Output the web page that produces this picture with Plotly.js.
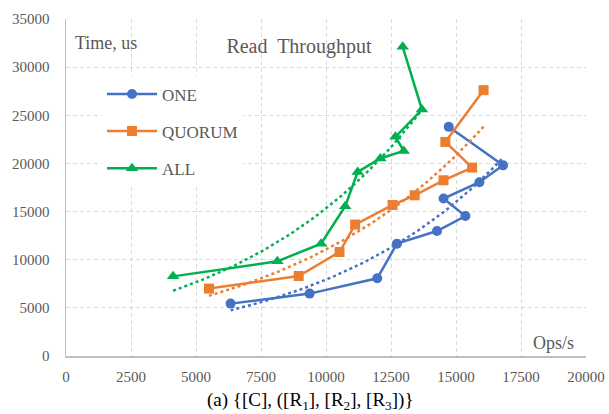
<!DOCTYPE html>
<html>
<head>
<meta charset="utf-8">
<script src="https://cdn.plot.ly/plotly-3.0.1.min.js"></script>
<style>
html,body{margin:0;padding:0;background:#fff;}
#chart{width:609px;height:414px;}
</style>
</head>
<body>
<div id="chart"></div>
<script>
// Data (Ops/s vs Time, us)
const seriesNames = ["ONE", "QUORUM", "ALL"];
const oneX = [6330, 9370, 11970, 12730, 14270, 15360, 14520, 15900, 16810, 14720];
const oneY = [5440, 6480, 8070, 11670, 12980, 14540, 16350, 18050, 19800, 23800];
const quorumX = [5500, 8950, 10520, 11120, 12560, 13410, 14520, 15620, 14590, 16060];
const quorumY = [7000, 8310, 10800, 13650, 15690, 16690, 18250, 19570, 22230, 27610];
const allX = [4120, 8130, 9810, 10740, 11220, 12090, 12990, 12670, 13690, 12950];
const allY = [8270, 9830, 11670, 15550, 19120, 20510, 21300, 22760, 25600, 32110];
const xTicks = [0, 2500, 5000, 7500, 10000, 12500, 15000, 17500, 20000];
const yTicks = [0, 5000, 10000, 15000, 20000, 25000, 30000, 35000];

const colors = ["#4472C4", "#ED7D31", "#00B050"];
const symbols = ["circle", "square", "triangle-up"];
const xs = [oneX, quorumX, allX];
const ys = [oneY, quorumY, allY];

// Exponential trendline (least squares on ln y), as a spreadsheet would compute
function expTrend(x, y) {
  const n = x.length;
  const ly = y.map(v => Math.log(v));
  const mx = x.reduce((a, b) => a + b, 0) / n;
  const my = ly.reduce((a, b) => a + b, 0) / n;
  let sxy = 0, sxx = 0;
  for (let i = 0; i < n; i++) { sxy += (x[i] - mx) * (ly[i] - my); sxx += (x[i] - mx) ** 2; }
  const b = sxy / sxx, a = my - b * mx;
  const x0 = Math.min(...x), x1 = Math.max(...x);
  const tx = [], ty = [];
  const steps = 60;
  for (let k = 0; k <= steps; k++) {
    const xv = x0 + (x1 - x0) * k / steps;
    tx.push(xv); ty.push(Math.exp(a + b * xv));
  }
  return {tx, ty};
}

const traces = [];
for (let i = 0; i < 3; i++) {
  traces.push({
    x: xs[i], y: ys[i], name: seriesNames[i], type: "scatter", mode: "lines+markers",
    legendgroup: "g" + i,
    line: {color: colors[i], width: 2.5},
    marker: {color: colors[i], symbol: symbols[i], size: i === 2 ? 11 : 10, line: {width: 0}},
    cliponaxis: false
  });
}
for (let i = 0; i < 3; i++) {
  const t = expTrend(xs[i], ys[i]);
  traces.push({
    x: t.tx, y: t.ty, type: "scatter", mode: "lines", showlegend: false, hoverinfo: "skip",
    line: {color: colors[i], width: 2.5, dash: "dot"}
  });
}

const fontFam = '"Liberation Serif", serif';
const txtCol = "#595959";

const layout = {
  width: 609, height: 414,
  margin: {l: 66, r: 23, t: 19, b: 58, pad: 0},
  paper_bgcolor: "#fff", plot_bgcolor: "#fff",
  font: {family: fontFam, color: txtCol, size: 15},
  title: {text: "Read  Throughput", font: {family: fontFam, size: 20, color: txtCol},
          xref: "container", yref: "container", x: 299/609, xanchor: "center",
          y: 1 - 46/414, yanchor: "middle"},
  xaxis: {
    range: [0, 20000], tickvals: xTicks, ticktext: xTicks.map(String),
    showgrid: true, gridcolor: "#D9D9D9", gridwidth: 1, griddash: "4px,3px",
    showline: true, linecolor: "#BFBFBF", linewidth: 1.5,
    zeroline: false, ticks: "", ticklabelstandoff: 6,
    tickfont: {family: fontFam, size: 15, color: txtCol}, fixedrange: true
  },
  yaxis: {
    range: [0, 35000], tickvals: yTicks, ticktext: yTicks.map(String),
    showgrid: true, gridcolor: "#D9D9D9", gridwidth: 1, griddash: "4px,3px",
    showline: true, linecolor: "#BFBFBF", linewidth: 1.5,
    zeroline: false, ticks: "", ticklabelstandoff: 12,
    tickfont: {family: fontFam, size: 15, color: txtCol}, fixedrange: true
  },
  showlegend: true,
  legend: {
    x: (102 - 66) / 520, y: (355.6 - 76) / 337, xanchor: "left", yanchor: "top",
    bgcolor: "#fff", borderwidth: 0, traceorder: "grouped", tracegroupgap: 12,
    itemwidth: 50,
    font: {family: fontFam, size: 17, color: txtCol}
  },
  annotations: [
    {text: "Time, us", xref: "paper", yref: "paper", x: (72.7 - 66) / 520, y: (355.6 - 42.5) / 337,
     xanchor: "left", yanchor: "middle", showarrow: false, font: {family: fontFam, size: 18, color: txtCol}},
    {text: "Ops/s", xref: "paper", yref: "paper", x: (575.7 - 66) / 520, y: (355.6 - 343) / 337,
     xanchor: "right", yanchor: "middle", showarrow: false, font: {family: fontFam, size: 18, color: txtCol}},
    {text: "(a) {[C], ([R<sub>1</sub>], [R<sub>2</sub>], [R<sub>3</sub>])}", xref: "paper", yref: "paper",
     x: (310 - 66) / 520, y: (355.6 - 401) / 337, xanchor: "center", yanchor: "middle", showarrow: false,
     font: {family: fontFam, size: 19, color: "#000"}}
  ]
};

Plotly.newPlot("chart", traces, layout, {staticPlot: true, displayModeBar: false});
</script>
</body>
</html>
